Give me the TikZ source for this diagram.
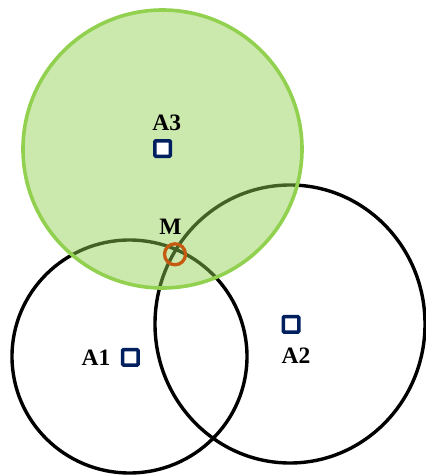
\documentclass[tikz,border=0pt]{standalone}
\usepackage{fontspec}
\setmainfont{Liberation Serif}
\definecolor{ringgreen}{RGB}{146,208,80}
\definecolor{navyblue}{RGB}{0,32,96}
\definecolor{morange}{RGB}{197,90,17}
\begin{document}
\begin{tikzpicture}[x=1pt,y=-1pt,
  rangecircle/.style={draw=black,line width=3.4pt},
  greenrange/.style={draw=ringgreen,line width=3.6pt,fill=ringgreen,fill opacity=0.47,draw opacity=1},
  anchorbox/.style={draw=navyblue,line width=3.5pt,rounded corners=1pt,minimum size=15.5pt,inner sep=0pt,fill=white},
  lbl/.style={font=\fontsize{23.5}{23.5}\selectfont\bfseries,inner sep=0pt},
  mring/.style={circle,draw=morange,line width=3.3pt,minimum size=21pt,inner sep=0pt}]
\useasboundingbox (0,0) rectangle (426,475);
\draw[rangecircle] (129.5,356.5) ellipse [x radius=117.5, y radius=116.5];
\draw[rangecircle] (290,324) ellipse [x radius=135, y radius=139];
\draw[greenrange] (162.5,149) ellipse [x radius=139.5, y radius=139];
\node[anchorbox] (a1) at (130.3,357.3) {};
\node[anchorbox] (a2) at (291,324.3) {};
\node[anchorbox] (a3) at (162.7,148.5) {};
\node[lbl] (l1) at (96,358) {A1};
\node[lbl] (l2) at (296,355.5) {A2};
\node[lbl] (l3) at (166.7,123) {A3};
\node[lbl] (lm) at (170.5,227) {M};
\node[mring] (m) at (175,254.3) {};
\end{tikzpicture}
\end{document}
